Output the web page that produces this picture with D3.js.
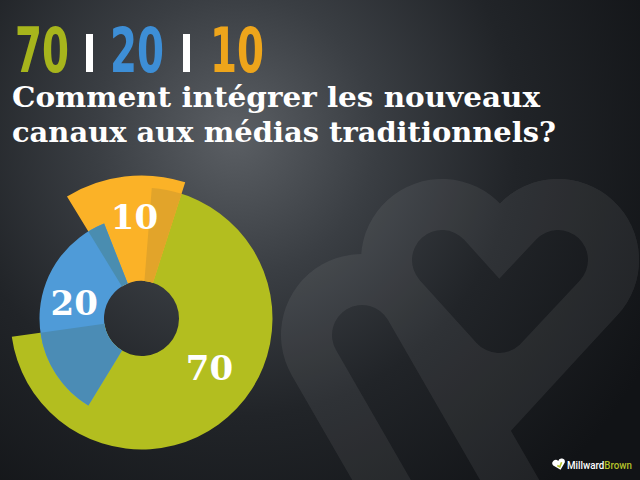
<!DOCTYPE html>
<html>
<head>
<meta charset="utf-8">
<script src="https://cdn.jsdelivr.net/npm/d3@7"></script>
<style>
  html, body { margin: 0; padding: 0; background: #1a1d21; }
  svg { display: block; }
</style>
</head>
<body>
<div id="chart"></div>
<script>
// data
const categories = ['70', '20', '10'];
const shares = [70, 20, 10];
const titleParts = ['70', '20', '10'];
const headingLines = ['Comment intégrer les nouveaux', 'canaux aux médias traditionnels?'];

// styling
const W = 640, H = 480;
const sliceColors = ['#b3be1f', '#4f9bd8', '#fbb227'];
const titleColors = ['#a7b51c', '#3d8ed6', '#eea51b'];
const overlapColors = { '2-0': '#e2a42a', '1-0': '#4b8cb5', '1-2': '#4a8db0' };
const outerR = [131, 102, 143];
const innerR = 37.5;
const center = [141.5, 318.5];
// degrees each slice runs past its own bounds (before, after)
const spill = [[-2.5, 3], [-47.6, 7.5], [-2.4, 10.8]];
const drawOrder = [0, 2, 1];
const labelPos = [[126, 84], [283, 69], [356, 102]];

const rad = d => d * Math.PI / 180;

const svg = d3.select('#chart').append('svg')
  .attr('width', W)
  .attr('height', H);

const defs = svg.append('defs');

const bg = defs.append('radialGradient')
  .attr('id', 'bg')
  .attr('gradientUnits', 'userSpaceOnUse')
  .attr('cx', 235).attr('cy', 135).attr('r', 470);
bg.append('stop').attr('offset', 0).attr('stop-color', '#5b5f64');
bg.append('stop').attr('offset', 0.3).attr('stop-color', '#3a3e43');
bg.append('stop').attr('offset', 0.6).attr('stop-color', '#212428');
bg.append('stop').attr('offset', 1).attr('stop-color', '#111316');

svg.append('rect')
  .attr('width', W)
  .attr('height', H)
  .attr('fill', 'url(#bg)');

// faint heart logo in the background
const mask = defs.append('mask').attr('id', 'heart');
const thick = [
  [[442, 260], [499, 323], [558, 260]],
  [[558, 260], [420, 410]],
  [[362, 335], [470, 522]]
];
const thin = [
  [[442, 260], [499, 323], [558, 260]],
  [[362, 335], [480, 540]]
];
const line = d3.line();
mask.append('rect').attr('width', W).attr('height', H).attr('fill', 'black');
mask.selectAll('.thick')
  .data(thick)
  .enter().append('path')
  .attr('d', line)
  .attr('fill', 'none')
  .attr('stroke', 'white')
  .attr('stroke-width', 162)
  .attr('stroke-linecap', 'round')
  .attr('stroke-linejoin', 'round');
mask.selectAll('.thin')
  .data(thin)
  .enter().append('path')
  .attr('d', line)
  .attr('fill', 'none')
  .attr('stroke', 'black')
  .attr('stroke-width', 60)
  .attr('stroke-linecap', 'round')
  .attr('stroke-linejoin', 'round');
svg.append('rect')
  .attr('width', W)
  .attr('height', H)
  .attr('fill', 'rgba(255,255,255,0.065)')
  .attr('mask', 'url(#heart)');

// title 70 | 20 | 10
const titleX = [15, 110, 210];
const barX = [86, 183];
svg.selectAll('.tnum')
  .data(titleParts)
  .enter().append('text')
  .attr('class', 'tnum')
  .attr('x', (d, i) => titleX[i])
  .attr('y', 72)
  .attr('textLength', 54)
  .attr('lengthAdjust', 'spacingAndGlyphs')
  .attr('font-family', '"Liberation Sans Narrow", "Arial Narrow", "DejaVu Sans Condensed", sans-serif')
  .attr('font-weight', 'bold')
  .attr('font-size', 63)
  .attr('fill', (d, i) => titleColors[i])
  .text(d => d);
svg.selectAll('.tbar')
  .data(barX)
  .enter().append('rect')
  .attr('x', d => d)
  .attr('y', 34)
  .attr('width', 7)
  .attr('height', 38)
  .attr('fill', '#ffffff');

// heading
svg.selectAll('.head')
  .data(headingLines)
  .enter().append('text')
  .attr('x', 12)
  .attr('y', (d, i) => 107 + i * 35)
  .attr('textLength', (d, i) => [528, 544][i])
  .attr('lengthAdjust', 'spacingAndGlyphs')
  .attr('font-family', '"DejaVu Serif", Georgia, serif')
  .attr('font-weight', 'bold')
  .attr('font-size', 28)
  .attr('fill', '#ffffff')
  .text(d => d);

// donut
const pie = d3.pie().sort(null).startAngle(rad(7)).endAngle(rad(367));
const slices = pie(shares).map((p, i) => ({
  i,
  a0: p.startAngle + rad(spill[i][0]),
  a1: p.endAngle + rad(spill[i][1]),
  r: outerR[i]
}));

const arc = d3.arc()
  .innerRadius(innerR)
  .outerRadius(d => d.r)
  .startAngle(d => d.a0)
  .endAngle(d => d.a1);

const g = svg.append('g')
  .attr('transform', `translate(${center[0]},${center[1]})`);

g.selectAll('.slice')
  .data(drawOrder.map(i => slices[i]))
  .enter().append('path')
  .attr('class', 'slice')
  .attr('d', arc)
  .attr('fill', d => sliceColors[d.i]);

// where a later slice lies over an earlier one, it shows darker
function overlap(a, b) {
  for (const k of [-1, 0, 1]) {
    const s = Math.max(a.a0, b.a0 + k * 2 * Math.PI);
    const e = Math.min(a.a1, b.a1 + k * 2 * Math.PI);
    if (e > s) return [s, e];
  }
  return null;
}
const overlaps = [];
drawOrder.forEach((top, ti) => {
  drawOrder.slice(0, ti).forEach(under => {
    const o = overlap(slices[top], slices[under]);
    if (o) overlaps.push({ a0: o[0], a1: o[1], r: Math.min(outerR[top], outerR[under]), key: top + '-' + under });
  });
});
g.selectAll('.overlap')
  .data(overlaps)
  .enter().append('path')
  .attr('class', 'overlap')
  .attr('d', arc)
  .attr('fill', d => overlapColors[d.key]);

g.selectAll('.label')
  .data(categories)
  .enter().append('text')
  .attr('class', 'label')
  .attr('transform', (d, i) => `translate(${d3.pointRadial(rad(labelPos[i][0]), labelPos[i][1])})`)
  .attr('dy', '0.36em')
  .attr('text-anchor', 'middle')
  .attr('font-family', '"DejaVu Serif", Georgia, serif')
  .attr('font-weight', 'bold')
  .attr('font-size', 34)
  .attr('fill', '#ffffff')
  .text(d => d);

// MillwardBrown logo
const logo = svg.append('g').attr('transform', 'translate(559,464)');
logo.append('path')
  .attr('d', 'M0,6 L-6,0 A3,3 0 0 1 0,-3 A3,3 0 0 1 6,0 Z')
  .attr('fill', '#ffffff')
  .attr('transform', 'rotate(-15)');
logo.append('path')
  .attr('d', 'M-2,1 L0,3 L3,-1')
  .attr('fill', 'none')
  .attr('stroke', '#b5c22a')
  .attr('stroke-width', 1.6)
  .attr('transform', 'rotate(-15)');
const brand = svg.append('text')
  .attr('x', 567)
  .attr('y', 469)
  .attr('font-family', 'Roboto, "Noto Sans", sans-serif')
  .attr('font-weight', 500)
  .attr('font-size', 10.5)
  .attr('textLength', 65)
  .attr('lengthAdjust', 'spacingAndGlyphs');
brand.append('tspan').attr('fill', '#ffffff').text('Millward');
brand.append('tspan').attr('fill', '#b5c22a').text('Brown');
</script>
</body>
</html>
